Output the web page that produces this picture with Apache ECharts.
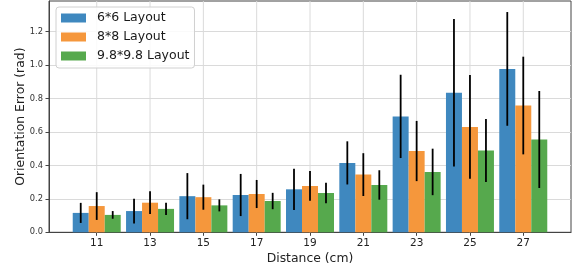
<!DOCTYPE html>
<html><head><meta charset="utf-8">
<script src="https://cdn.jsdelivr.net/npm/echarts@6/dist/echarts.min.js"></script>
<style>html,body{margin:0;padding:0;background:#fff}#c{width:572px;height:274px}</style>
</head><body><div id="c"></div>
<script>
const distances = [11, 13, 15, 17, 19, 21, 23, 25, 27];
const seriesNames = ['6*6 Layout', '8*8 Layout', '9.8*9.8 Layout'];
const mean66 = [0.116, 0.127, 0.216, 0.223, 0.257, 0.415, 0.693, 0.834, 0.977];
const err66  = [0.060, 0.074, 0.138, 0.126, 0.123, 0.129, 0.249, 0.441, 0.340];
const mean88 = [0.157, 0.177, 0.210, 0.229, 0.277, 0.345, 0.486, 0.630, 0.758];
const err88  = [0.083, 0.068, 0.075, 0.084, 0.089, 0.128, 0.180, 0.310, 0.292];
const mean98 = [0.104, 0.140, 0.161, 0.187, 0.235, 0.283, 0.361, 0.489, 0.555];
const err98  = [0.023, 0.037, 0.036, 0.049, 0.062, 0.088, 0.139, 0.188, 0.290];
const yTicks = [0, 0.2, 0.4, 0.6, 0.8, 1.0, 1.2];

const colors = ['#3f88bf', '#f5973c', '#56a94d'];
const FONT = 'DejaVu Sans';
const BARW = 0.6;

function barSeries(k, means, errs) {
  const off = (k - 1) * BARW;
  const color = colors[k];
  return {
    type: 'custom', name: seriesNames[k], z: 3,
    itemStyle: { color: color },
    data: distances.map((d, i) => [d, means[i], errs[i]]),
    encode: { x: 0, y: 1 },
    renderItem: function (params, api) {
      const x = api.value(0) + off, y = api.value(1), e = api.value(2);
      const p0 = api.coord([x - BARW / 2, y]);
      const p1 = api.coord([x + BARW / 2, 0]);
      const t = api.coord([x, y + e]);
      const b = api.coord([x, y - e]);
      return {
        type: 'group', children: [
          { type: 'rect', shape: { x: p0[0], y: p0[1], width: p1[0] - p0[0], height: p1[1] - p0[1] }, style: { fill: color } },
          { type: 'line', shape: { x1: t[0], y1: t[1], x2: b[0], y2: b[1] }, style: { stroke: '#000', lineWidth: 1.8 } }
        ]
      };
    }
  };
}

const vGrid = {
  type: 'custom', name: 'vgrid', z: 1, silent: true,
  data: distances.map(d => [d]),
  encode: { x: 0 },
  renderItem: function (params, api) {
    const cs = params.coordSys;
    const p = api.coord([api.value(0), 0]);
    return { type: 'line', shape: { x1: p[0], y1: cs.y, x2: p[0], y2: cs.y + cs.height }, style: { stroke: '#dadada', lineWidth: 1 } };
  }
};

const chart = echarts.init(document.getElementById('c'));
chart.setOption({
  animation: false,
  backgroundColor: '#fff',
  grid: { left: 49, right: 1, top: 1, bottom: 41.7, show: true, borderColor: '#444', borderWidth: 1, backgroundColor: 'transparent' },
  legend: {
    orient: 'vertical', left: 56, top: 7, padding: [4, 5, 5, 5],
    itemWidth: 25, itemHeight: 9, itemGap: 5, icon: 'rect', z: 10,
    borderColor: '#d0d0d0', borderWidth: 1, borderRadius: 3, backgroundColor: 'rgba(255,255,255,0.85)',
    selectedMode: false,
    textStyle: { fontFamily: FONT, fontSize: 12.5, color: '#1a1a1a', padding: [0, 0, 0, 6], lineHeight: 14 },
    data: seriesNames.map((n, i) => ({ name: n, itemStyle: { color: colors[i] } }))
  },
  xAxis: {
    type: 'value', min: 9.21, max: 28.79,
    name: 'Distance (cm)', nameLocation: 'middle', nameGap: 20, nameMoveOverlap: false,
    nameTextStyle: { fontFamily: FONT, fontSize: 12.4, color: '#222' },
    axisLine: { show: true, onZero: false, lineStyle: { color: '#444', width: 1 } },
    axisTick: { show: true, customValues: distances, length: 3.5, lineStyle: { color: '#444' } },
    axisLabel: { customValues: distances, fontFamily: FONT, fontSize: 10.5, color: '#222', margin: 5 },
    splitLine: { show: false }
  },
  yAxis: {
    type: 'value', min: 0, max: 1.383, interval: 0.2,
    name: 'Orientation Error (rad)', nameLocation: 'middle', nameGap: 22, nameMoveOverlap: false,
    nameTextStyle: { fontFamily: FONT, fontSize: 12.4, color: '#222' },
    axisLine: { show: true, lineStyle: { color: '#444', width: 1 } },
    axisTick: { show: true, customValues: yTicks, length: 3.5, lineStyle: { color: '#444' } },
    axisLabel: { customValues: yTicks, fontFamily: FONT, fontSize: 8.3, color: '#333', margin: 6, formatter: v => v.toFixed(1) },
    splitLine: { show: true, lineStyle: { color: '#dadada', width: 1 } }
  },
  series: [vGrid, barSeries(0, mean66, err66), barSeries(1, mean88, err88), barSeries(2, mean98, err98)]
});
</script>
</body></html>
